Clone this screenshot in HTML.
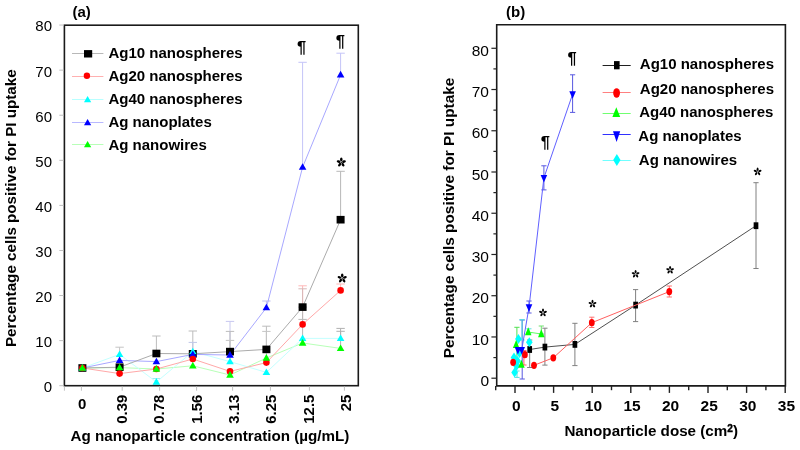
<!DOCTYPE html>
<html><head><meta charset="utf-8"><style>
html,body{margin:0;padding:0;background:#fff;width:800px;height:450px;overflow:hidden}
svg{display:block;font-family:"Liberation Sans", sans-serif;will-change:transform}
text{fill:#000}
</style></head><body>
<svg width="800" height="450" viewBox="0 0 800 450">
<rect width="800" height="450" fill="#fff"/>
<line x1="119.60" y1="347.20" x2="119.60" y2="360.00" stroke="#c4c4c4" stroke-width="1"/>
<line x1="115.40" y1="347.20" x2="123.80" y2="347.20" stroke="#c4c4c4" stroke-width="1"/>
<line x1="156.40" y1="336.00" x2="156.40" y2="353.50" stroke="#bcbcbc" stroke-width="1"/>
<line x1="152.20" y1="336.00" x2="160.60" y2="336.00" stroke="#bcbcbc" stroke-width="1"/>
<line x1="156.40" y1="378.50" x2="156.40" y2="382.00" stroke="#a0f0f0" stroke-width="1"/>
<line x1="152.20" y1="378.50" x2="160.60" y2="378.50" stroke="#a0f0f0" stroke-width="1"/>
<line x1="192.80" y1="331.00" x2="192.80" y2="353.80" stroke="#bcbcbc" stroke-width="1"/>
<line x1="188.60" y1="331.00" x2="197.00" y2="331.00" stroke="#bcbcbc" stroke-width="1"/>
<line x1="192.80" y1="342.40" x2="192.80" y2="351.60" stroke="#c0c8e8" stroke-width="1"/>
<line x1="188.60" y1="342.40" x2="197.00" y2="342.40" stroke="#c0c8e8" stroke-width="1"/>
<line x1="230.00" y1="321.40" x2="230.00" y2="355.00" stroke="#c8c8f0" stroke-width="1"/>
<line x1="225.80" y1="321.40" x2="234.20" y2="321.40" stroke="#c8c8f0" stroke-width="1"/>
<line x1="230.00" y1="331.40" x2="230.00" y2="351.60" stroke="#bcbcbc" stroke-width="1"/>
<line x1="225.80" y1="331.40" x2="234.20" y2="331.40" stroke="#bcbcbc" stroke-width="1"/>
<line x1="230.00" y1="340.40" x2="230.00" y2="361.60" stroke="#c4c4c4" stroke-width="1"/>
<line x1="225.80" y1="340.40" x2="234.20" y2="340.40" stroke="#c4c4c4" stroke-width="1"/>
<line x1="266.40" y1="326.20" x2="266.40" y2="349.40" stroke="#bcbcbc" stroke-width="1"/>
<line x1="262.20" y1="326.20" x2="270.60" y2="326.20" stroke="#bcbcbc" stroke-width="1"/>
<line x1="266.40" y1="331.40" x2="266.40" y2="358.00" stroke="#c4c4c4" stroke-width="1"/>
<line x1="262.20" y1="331.40" x2="270.60" y2="331.40" stroke="#c4c4c4" stroke-width="1"/>
<line x1="266.40" y1="301.00" x2="266.40" y2="307.70" stroke="#c0c0f0" stroke-width="1"/>
<line x1="262.20" y1="301.00" x2="270.60" y2="301.00" stroke="#c0c0f0" stroke-width="1"/>
<line x1="302.60" y1="285.80" x2="302.60" y2="324.40" stroke="#ffb8b8" stroke-width="1"/>
<line x1="298.40" y1="285.80" x2="306.80" y2="285.80" stroke="#ffb8b8" stroke-width="1"/>
<line x1="302.60" y1="288.80" x2="302.60" y2="307.10" stroke="#d8b8b8" stroke-width="1"/>
<line x1="298.40" y1="288.80" x2="306.80" y2="288.80" stroke="#d8b8b8" stroke-width="1"/>
<line x1="302.60" y1="62.30" x2="302.60" y2="167.20" stroke="#c4c4f8" stroke-width="1"/>
<line x1="298.40" y1="62.30" x2="306.80" y2="62.30" stroke="#c4c4f8" stroke-width="1"/>
<line x1="340.60" y1="171.30" x2="340.60" y2="219.70" stroke="#b8b8b8" stroke-width="1"/>
<line x1="336.40" y1="171.30" x2="344.80" y2="171.30" stroke="#b8b8b8" stroke-width="1"/>
<line x1="340.60" y1="53.20" x2="340.60" y2="74.80" stroke="#c4c4f8" stroke-width="1"/>
<line x1="336.40" y1="53.20" x2="344.80" y2="53.20" stroke="#c4c4f8" stroke-width="1"/>
<line x1="340.60" y1="284.00" x2="340.60" y2="290.40" stroke="#ffb8b8" stroke-width="1"/>
<line x1="336.40" y1="284.00" x2="344.80" y2="284.00" stroke="#ffb8b8" stroke-width="1"/>
<line x1="340.60" y1="328.40" x2="340.60" y2="338.40" stroke="#b0b0b0" stroke-width="1"/>
<line x1="336.40" y1="328.40" x2="344.80" y2="328.40" stroke="#b0b0b0" stroke-width="1"/>
<line x1="340.60" y1="331.30" x2="340.60" y2="348.40" stroke="#b0b0b0" stroke-width="1"/>
<line x1="336.40" y1="331.30" x2="344.80" y2="331.30" stroke="#b0b0b0" stroke-width="1"/>
<line x1="302.60" y1="319.40" x2="302.60" y2="338.40" stroke="#b8b8b8" stroke-width="1"/>
<line x1="298.40" y1="319.40" x2="306.80" y2="319.40" stroke="#b8b8b8" stroke-width="1"/>
<line x1="302.60" y1="307.10" x2="302.60" y2="319.40" stroke="#b8b8b8" stroke-width="1"/>
<line x1="298.40" y1="307.10" x2="306.80" y2="307.10" stroke="#b8b8b8" stroke-width="1"/>
<polyline points="82.40,368.00 119.60,367.60 156.40,369.00 192.80,365.80 230.00,375.00 266.40,358.00 302.60,343.00 340.60,348.40" fill="none" stroke="#b8ffb8" stroke-width="1" stroke-linejoin="round"/>
<polyline points="82.40,368.00 119.60,354.40 156.40,382.00 192.80,351.60 230.00,361.60 266.40,372.40 302.60,338.40 340.60,338.40" fill="none" stroke="#c4ffff" stroke-width="1" stroke-linejoin="round"/>
<polyline points="82.40,368.00 119.60,373.60 156.40,369.00 192.80,359.00 230.00,371.40 266.40,362.60 302.60,324.40 340.60,290.40" fill="none" stroke="#ffa8a8" stroke-width="1" stroke-linejoin="round"/>
<polyline points="82.40,368.00 119.60,360.40 156.40,361.60 192.80,354.40 230.00,355.00 266.40,307.70 302.60,167.20 340.60,74.80" fill="none" stroke="#a8a8ff" stroke-width="1" stroke-linejoin="round"/>
<polyline points="82.40,368.00 119.60,367.20 156.40,353.50 192.80,353.80 230.00,351.60 266.40,349.40 302.60,307.10 340.60,219.70" fill="none" stroke="#ababab" stroke-width="1" stroke-linejoin="round"/>
<rect x="78.40" y="364.20" width="8" height="7.6" fill="#000"/>
<rect x="115.60" y="363.40" width="8" height="7.6" fill="#000"/>
<rect x="152.40" y="349.70" width="8" height="7.6" fill="#000"/>
<rect x="188.80" y="350.00" width="8" height="7.6" fill="#000"/>
<rect x="226.00" y="347.80" width="8" height="7.6" fill="#000"/>
<rect x="262.40" y="345.60" width="8" height="7.6" fill="#000"/>
<rect x="298.60" y="303.30" width="8" height="7.6" fill="#000"/>
<rect x="336.60" y="215.90" width="8" height="7.6" fill="#000"/>
<path d="M78.60 370.64L86.20 370.64L82.40 364.04Z" fill="#00ffff"/>
<path d="M115.80 357.04L123.40 357.04L119.60 350.44Z" fill="#00ffff"/>
<path d="M152.60 384.64L160.20 384.64L156.40 378.04Z" fill="#00ffff"/>
<path d="M189.00 354.24L196.60 354.24L192.80 347.64Z" fill="#00ffff"/>
<path d="M226.20 364.24L233.80 364.24L230.00 357.64Z" fill="#00ffff"/>
<path d="M262.60 375.04L270.20 375.04L266.40 368.44Z" fill="#00ffff"/>
<path d="M298.80 341.04L306.40 341.04L302.60 334.44Z" fill="#00ffff"/>
<path d="M336.80 341.04L344.40 341.04L340.60 334.44Z" fill="#00ffff"/>
<path d="M78.60 370.64L86.20 370.64L82.40 364.04Z" fill="#0000ff"/>
<path d="M115.80 363.04L123.40 363.04L119.60 356.44Z" fill="#0000ff"/>
<path d="M152.60 364.24L160.20 364.24L156.40 357.64Z" fill="#0000ff"/>
<path d="M189.00 357.04L196.60 357.04L192.80 350.44Z" fill="#0000ff"/>
<path d="M226.20 357.64L233.80 357.64L230.00 351.04Z" fill="#0000ff"/>
<path d="M262.60 310.34L270.20 310.34L266.40 303.74Z" fill="#0000ff"/>
<path d="M298.80 169.84L306.40 169.84L302.60 163.24Z" fill="#0000ff"/>
<path d="M336.80 77.44L344.40 77.44L340.60 70.84Z" fill="#0000ff"/>
<circle cx="82.40" cy="368.00" r="3.3" fill="#ff0000"/>
<circle cx="119.60" cy="373.60" r="3.3" fill="#ff0000"/>
<circle cx="156.40" cy="369.00" r="3.3" fill="#ff0000"/>
<circle cx="192.80" cy="359.00" r="3.3" fill="#ff0000"/>
<circle cx="230.00" cy="371.40" r="3.3" fill="#ff0000"/>
<circle cx="266.40" cy="362.60" r="3.3" fill="#ff0000"/>
<circle cx="302.60" cy="324.40" r="3.3" fill="#ff0000"/>
<circle cx="340.60" cy="290.40" r="3.3" fill="#ff0000"/>
<path d="M78.60 370.64L86.20 370.64L82.40 364.04Z" fill="#00ff00"/>
<path d="M115.80 370.24L123.40 370.24L119.60 363.64Z" fill="#00ff00"/>
<path d="M152.60 371.64L160.20 371.64L156.40 365.04Z" fill="#00ff00"/>
<path d="M189.00 368.44L196.60 368.44L192.80 361.84Z" fill="#00ff00"/>
<path d="M226.20 377.64L233.80 377.64L230.00 371.04Z" fill="#00ff00"/>
<path d="M262.60 360.64L270.20 360.64L266.40 354.04Z" fill="#00ff00"/>
<path d="M298.80 345.64L306.40 345.64L302.60 339.04Z" fill="#00ff00"/>
<path d="M336.80 351.04L344.40 351.04L340.60 344.44Z" fill="#00ff00"/>
<rect x="64.4" y="25.2" width="293.9" height="360.5" fill="none" stroke="#1a1a1a" stroke-width="1.6"/>
<line x1="59.30" y1="385.70" x2="63.60" y2="385.70" stroke="#c0c0c0" stroke-width="1"/>
<text x="52" y="392.09999999999997" font-size="15" font-weight="normal" text-anchor="end" >0</text>
<line x1="59.30" y1="340.62" x2="63.60" y2="340.62" stroke="#c0c0c0" stroke-width="1"/>
<text x="52" y="347.02" font-size="15" font-weight="normal" text-anchor="end" >10</text>
<line x1="59.30" y1="295.54" x2="63.60" y2="295.54" stroke="#c0c0c0" stroke-width="1"/>
<text x="52" y="301.93999999999994" font-size="15" font-weight="normal" text-anchor="end" >20</text>
<line x1="59.30" y1="250.46" x2="63.60" y2="250.46" stroke="#c0c0c0" stroke-width="1"/>
<text x="52" y="256.85999999999996" font-size="15" font-weight="normal" text-anchor="end" >30</text>
<line x1="59.30" y1="205.38" x2="63.60" y2="205.38" stroke="#c0c0c0" stroke-width="1"/>
<text x="52" y="211.78" font-size="15" font-weight="normal" text-anchor="end" >40</text>
<line x1="59.30" y1="160.30" x2="63.60" y2="160.30" stroke="#c0c0c0" stroke-width="1"/>
<text x="52" y="166.7" font-size="15" font-weight="normal" text-anchor="end" >50</text>
<line x1="59.30" y1="115.22" x2="63.60" y2="115.22" stroke="#c0c0c0" stroke-width="1"/>
<text x="52" y="121.61999999999998" font-size="15" font-weight="normal" text-anchor="end" >60</text>
<line x1="59.30" y1="70.14" x2="63.60" y2="70.14" stroke="#c0c0c0" stroke-width="1"/>
<text x="52" y="76.53999999999999" font-size="15" font-weight="normal" text-anchor="end" >70</text>
<line x1="59.30" y1="25.06" x2="63.60" y2="25.06" stroke="#c0c0c0" stroke-width="1"/>
<text x="52" y="31.46" font-size="15" font-weight="normal" text-anchor="end" >80</text>
<line x1="64.40" y1="386.50" x2="64.40" y2="390.70" stroke="#c0c0c0" stroke-width="1"/>
<line x1="81.40" y1="386.50" x2="81.40" y2="390.70" stroke="#c0c0c0" stroke-width="1"/>
<line x1="122.20" y1="386.50" x2="122.20" y2="390.70" stroke="#c0c0c0" stroke-width="1"/>
<line x1="159.60" y1="386.50" x2="159.60" y2="390.70" stroke="#c0c0c0" stroke-width="1"/>
<line x1="196.60" y1="386.50" x2="196.60" y2="390.70" stroke="#c0c0c0" stroke-width="1"/>
<line x1="232.60" y1="386.50" x2="232.60" y2="390.70" stroke="#c0c0c0" stroke-width="1"/>
<line x1="270.40" y1="386.50" x2="270.40" y2="390.70" stroke="#c0c0c0" stroke-width="1"/>
<line x1="309.40" y1="386.50" x2="309.40" y2="390.70" stroke="#c0c0c0" stroke-width="1"/>
<line x1="344.40" y1="386.50" x2="344.40" y2="390.70" stroke="#c0c0c0" stroke-width="1"/>
<text x="82.2" y="409" font-size="15" font-weight="bold" text-anchor="middle" >0</text>
<text transform="translate(127.2,394.6) rotate(-90)" font-size="15" font-weight="bold" text-anchor="end">0.39</text>
<text transform="translate(164.3,394.6) rotate(-90)" font-size="15" font-weight="bold" text-anchor="end">0.78</text>
<text transform="translate(201.5,394.6) rotate(-90)" font-size="15" font-weight="bold" text-anchor="end">1.56</text>
<text transform="translate(239.1,394.6) rotate(-90)" font-size="15" font-weight="bold" text-anchor="end">3.13</text>
<text transform="translate(276.1,394.6) rotate(-90)" font-size="15" font-weight="bold" text-anchor="end">6.25</text>
<text transform="translate(314.1,394.6) rotate(-90)" font-size="15" font-weight="bold" text-anchor="end">12.5</text>
<text transform="translate(351.2,394.6) rotate(-90)" font-size="15" font-weight="bold" text-anchor="end">25</text>
<text x="70.6" y="441" font-size="15.2" font-weight="bold" text-anchor="start" >Ag nanoparticle concentration (µg/mL)</text>
<text transform="translate(16.1,208.2) rotate(-90)" font-size="15.2" font-weight="bold" text-anchor="middle">Percentage cells positive for PI uptake</text>
<text x="72.5" y="17" font-size="15" font-weight="bold" text-anchor="start" >(a)</text>
<text x="301.7" y="53.0" font-size="16.5" font-weight="bold" text-anchor="middle" >¶</text>
<text x="340.4" y="47.0" font-size="16.5" font-weight="bold" text-anchor="middle" >¶</text>
<ellipse cx="341.30" cy="159.58" rx="1.97" ry="1.25" transform="rotate(-90 341.30 159.58)" fill="#000"/><ellipse cx="343.98" cy="161.53" rx="1.97" ry="1.25" transform="rotate(-18 343.98 161.53)" fill="#000"/><ellipse cx="342.96" cy="164.68" rx="1.97" ry="1.25" transform="rotate(54 342.96 164.68)" fill="#000"/><ellipse cx="339.64" cy="164.68" rx="1.97" ry="1.25" transform="rotate(126 339.64 164.68)" fill="#000"/><ellipse cx="338.62" cy="161.53" rx="1.97" ry="1.25" transform="rotate(198 338.62 161.53)" fill="#000"/><circle cx="341.3" cy="162.4" r="0.62" fill="#000"/>
<ellipse cx="342.20" cy="275.48" rx="1.97" ry="1.25" transform="rotate(-90 342.20 275.48)" fill="#000"/><ellipse cx="344.88" cy="277.43" rx="1.97" ry="1.25" transform="rotate(-18 344.88 277.43)" fill="#000"/><ellipse cx="343.86" cy="280.58" rx="1.97" ry="1.25" transform="rotate(54 343.86 280.58)" fill="#000"/><ellipse cx="340.54" cy="280.58" rx="1.97" ry="1.25" transform="rotate(126 340.54 280.58)" fill="#000"/><ellipse cx="339.52" cy="277.43" rx="1.97" ry="1.25" transform="rotate(198 339.52 277.43)" fill="#000"/><circle cx="342.2" cy="278.3" r="0.62" fill="#000"/>
<line x1="72.00" y1="53.50" x2="103.40" y2="53.50" stroke="#b8b8b8" stroke-width="1"/>
<rect x="84.00" y="50.10" width="8.2" height="7.4" fill="#000"/>
<text x="108.4" y="58.0" font-size="15" font-weight="bold" text-anchor="start" >Ag10 nanospheres</text>
<line x1="72.00" y1="76.50" x2="103.40" y2="76.50" stroke="#ffb0b0" stroke-width="1"/>
<circle cx="86.90" cy="75.80" r="3.2" fill="#ff0000"/>
<text x="108.4" y="80.8" font-size="15" font-weight="bold" text-anchor="start" >Ag20 nanospheres</text>
<line x1="72.00" y1="99.50" x2="103.40" y2="99.50" stroke="#b8ffff" stroke-width="1"/>
<path d="M84 102.3L91.2 102.3L87.6 95.9Z" fill="#00ffff"/>
<text x="108.4" y="104.3" font-size="15" font-weight="bold" text-anchor="start" >Ag40 nanospheres</text>
<line x1="72.00" y1="122.50" x2="103.40" y2="122.50" stroke="#b8b8ff" stroke-width="1"/>
<path d="M84 125.3L91.2 125.3L87.6 118.9Z" fill="#0000ff"/>
<text x="108.4" y="127.2" font-size="15" font-weight="bold" text-anchor="start" >Ag nanoplates</text>
<line x1="72.00" y1="144.50" x2="103.40" y2="144.50" stroke="#b8ffb8" stroke-width="1"/>
<path d="M84 147.3L91.2 147.3L87.6 140.9Z" fill="#00ff00"/>
<text x="108.4" y="149.6" font-size="15" font-weight="bold" text-anchor="start" >Ag nanowires</text>
<line x1="756.00" y1="182.70" x2="756.00" y2="268.50" stroke="#808080" stroke-width="1"/><line x1="753.40" y1="182.70" x2="758.60" y2="182.70" stroke="#808080" stroke-width="1"/><line x1="753.40" y1="268.50" x2="758.60" y2="268.50" stroke="#808080" stroke-width="1"/>
<line x1="635.60" y1="289.60" x2="635.60" y2="321.60" stroke="#808080" stroke-width="1"/><line x1="633.00" y1="289.60" x2="638.20" y2="289.60" stroke="#808080" stroke-width="1"/><line x1="633.00" y1="321.60" x2="638.20" y2="321.60" stroke="#808080" stroke-width="1"/>
<line x1="574.90" y1="323.30" x2="574.90" y2="365.60" stroke="#808080" stroke-width="1"/><line x1="572.30" y1="323.30" x2="577.50" y2="323.30" stroke="#808080" stroke-width="1"/><line x1="572.30" y1="365.60" x2="577.50" y2="365.60" stroke="#808080" stroke-width="1"/>
<line x1="544.90" y1="328.20" x2="544.90" y2="365.10" stroke="#808080" stroke-width="1"/><line x1="542.30" y1="328.20" x2="547.50" y2="328.20" stroke="#808080" stroke-width="1"/><line x1="542.30" y1="365.10" x2="547.50" y2="365.10" stroke="#808080" stroke-width="1"/>
<line x1="529.70" y1="340.00" x2="529.70" y2="367.50" stroke="#808080" stroke-width="1"/><line x1="527.10" y1="340.00" x2="532.30" y2="340.00" stroke="#808080" stroke-width="1"/><line x1="527.10" y1="367.50" x2="532.30" y2="367.50" stroke="#808080" stroke-width="1"/>
<line x1="572.60" y1="74.80" x2="572.60" y2="112.40" stroke="#5858e0" stroke-width="1"/><line x1="570.00" y1="74.80" x2="575.20" y2="74.80" stroke="#5858e0" stroke-width="1"/><line x1="570.00" y1="112.40" x2="575.20" y2="112.40" stroke="#5858e0" stroke-width="1"/>
<line x1="543.90" y1="165.80" x2="543.90" y2="189.90" stroke="#5858e0" stroke-width="1"/><line x1="541.30" y1="165.80" x2="546.50" y2="165.80" stroke="#5858e0" stroke-width="1"/><line x1="541.30" y1="189.90" x2="546.50" y2="189.90" stroke="#5858e0" stroke-width="1"/>
<line x1="529.00" y1="301.00" x2="529.00" y2="313.00" stroke="#5858e0" stroke-width="1"/><line x1="526.40" y1="301.00" x2="531.60" y2="301.00" stroke="#5858e0" stroke-width="1"/><line x1="526.40" y1="313.00" x2="531.60" y2="313.00" stroke="#5858e0" stroke-width="1"/>
<line x1="522.20" y1="320.00" x2="522.20" y2="379.00" stroke="#5858e0" stroke-width="1"/><line x1="519.60" y1="320.00" x2="524.80" y2="320.00" stroke="#5858e0" stroke-width="1"/><line x1="519.60" y1="379.00" x2="524.80" y2="379.00" stroke="#5858e0" stroke-width="1"/>
<line x1="516.90" y1="327.30" x2="516.90" y2="365.00" stroke="#50e050" stroke-width="1"/><line x1="514.30" y1="327.30" x2="519.50" y2="327.30" stroke="#50e050" stroke-width="1"/><line x1="514.30" y1="365.00" x2="519.50" y2="365.00" stroke="#50e050" stroke-width="1"/>
<line x1="523.90" y1="350.60" x2="523.90" y2="365.00" stroke="#ff6060" stroke-width="1"/><line x1="521.30" y1="350.60" x2="526.50" y2="350.60" stroke="#ff6060" stroke-width="1"/><line x1="521.30" y1="365.00" x2="526.50" y2="365.00" stroke="#ff6060" stroke-width="1"/>
<line x1="669.30" y1="286.00" x2="669.30" y2="297.00" stroke="#ff7070" stroke-width="1"/><line x1="666.70" y1="286.00" x2="671.90" y2="286.00" stroke="#ff7070" stroke-width="1"/><line x1="666.70" y1="297.00" x2="671.90" y2="297.00" stroke="#ff7070" stroke-width="1"/>
<line x1="591.80" y1="317.20" x2="591.80" y2="327.50" stroke="#ff7070" stroke-width="1"/><line x1="589.20" y1="317.20" x2="594.40" y2="317.20" stroke="#ff7070" stroke-width="1"/><line x1="589.20" y1="327.50" x2="594.40" y2="327.50" stroke="#ff7070" stroke-width="1"/>
<line x1="517.00" y1="377.40" x2="517.00" y2="371.00" stroke="#50e0e0" stroke-width="1"/><line x1="514.40" y1="377.40" x2="519.60" y2="377.40" stroke="#50e0e0" stroke-width="1"/><line x1="514.40" y1="371.00" x2="519.60" y2="371.00" stroke="#50e0e0" stroke-width="1"/>
<line x1="522.00" y1="319.70" x2="522.00" y2="340.00" stroke="#50e0e0" stroke-width="1"/><line x1="519.40" y1="319.70" x2="524.60" y2="319.70" stroke="#50e0e0" stroke-width="1"/><line x1="519.40" y1="340.00" x2="524.60" y2="340.00" stroke="#50e0e0" stroke-width="1"/>
<line x1="541.30" y1="326.00" x2="541.30" y2="334.00" stroke="#70e070" stroke-width="1"/><line x1="538.70" y1="326.00" x2="543.90" y2="326.00" stroke="#70e070" stroke-width="1"/><line x1="538.70" y1="334.00" x2="543.90" y2="334.00" stroke="#70e070" stroke-width="1"/>
<line x1="528.90" y1="328.80" x2="528.90" y2="333.00" stroke="#60e0e0" stroke-width="1"/><line x1="526.30" y1="328.80" x2="531.50" y2="328.80" stroke="#60e0e0" stroke-width="1"/><line x1="526.30" y1="333.00" x2="531.50" y2="333.00" stroke="#60e0e0" stroke-width="1"/>
<polyline points="529.70,349.50 544.90,347.10 574.90,344.40 635.60,305.10 756.00,225.70" fill="none" stroke="#505050" stroke-width="1" stroke-linejoin="round"/>
<rect x="527.35" y="346.10" width="4.7" height="6.8" fill="#000"/>
<rect x="542.55" y="343.70" width="4.7" height="6.8" fill="#000"/>
<rect x="572.55" y="341.00" width="4.7" height="6.8" fill="#000"/>
<rect x="633.25" y="301.70" width="4.7" height="6.8" fill="#000"/>
<rect x="753.65" y="222.30" width="4.7" height="6.8" fill="#000"/>
<polyline points="528.20,332.00 541.30,334.00" fill="none" stroke="#60ff60" stroke-width="1" stroke-linejoin="round"/>
<path d="M514.60 367.40L517.90 372.40L514.60 377.40L511.30 372.40Z" fill="#00ffff"/>
<path d="M516.50 361.00L519.80 366.00L516.50 371.00L513.20 366.00Z" fill="#00ffff"/>
<path d="M514.00 352.50L517.30 357.50L514.00 362.50L510.70 357.50Z" fill="#00ffff"/>
<path d="M517.60 356.00L520.90 361.00L517.60 366.00L514.30 361.00Z" fill="#00ffff"/>
<path d="M519.50 348.00L522.80 353.00L519.50 358.00L516.20 353.00Z" fill="#00ffff"/>
<path d="M518.40 333.90L521.70 338.90L518.40 343.90L515.10 338.90Z" fill="#00ffff"/>
<path d="M529.30 337.30L532.60 342.30L529.30 347.30L526.00 342.30Z" fill="#00ffff"/>
<path d="M512.85 348.10L519.35 348.10L516.10 340.10Z" fill="#00ff00"/>
<path d="M518.15 367.80L524.65 367.80L521.40 359.80Z" fill="#00ff00"/>
<path d="M524.95 335.20L531.45 335.20L528.20 327.20Z" fill="#00ff00"/>
<path d="M538.05 337.20L544.55 337.20L541.30 329.20Z" fill="#00ff00"/>
<polyline points="534.00,365.30 553.30,357.80 591.80,322.70 669.30,291.60" fill="none" stroke="#ff6060" stroke-width="1" stroke-linejoin="round"/>
<ellipse cx="513.10" cy="362.30" rx="2.9" ry="3.6" fill="#ff0000"/>
<ellipse cx="524.90" cy="354.70" rx="2.9" ry="3.6" fill="#ff0000"/>
<ellipse cx="534.00" cy="365.30" rx="2.9" ry="3.6" fill="#ff0000"/>
<ellipse cx="553.30" cy="357.80" rx="2.9" ry="3.6" fill="#ff0000"/>
<ellipse cx="591.80" cy="322.70" rx="2.9" ry="3.6" fill="#ff0000"/>
<ellipse cx="669.30" cy="291.60" rx="2.9" ry="3.6" fill="#ff0000"/>
<polyline points="517.90,350.00 521.70,350.00 529.00,307.30 543.90,177.90 572.60,94.20" fill="none" stroke="#6060ff" stroke-width="1" stroke-linejoin="round"/>
<path d="M514.60 347.00L521.20 347.00L517.90 354.60Z" fill="#0000ff"/>
<path d="M518.40 347.00L525.00 347.00L521.70 354.60Z" fill="#0000ff"/>
<path d="M525.70 304.30L532.30 304.30L529.00 311.90Z" fill="#0000ff"/>
<path d="M540.60 174.90L547.20 174.90L543.90 182.50Z" fill="#0000ff"/>
<path d="M569.30 91.20L575.90 91.20L572.60 98.80Z" fill="#0000ff"/>
<path d="M496.7 385.9V24.8H785.4V385.9Z" fill="none" stroke="#1a1a1a" stroke-width="1.6"/>
<line x1="491.40" y1="378.20" x2="496.70" y2="378.20" stroke="#222" stroke-width="1.2"/>
<text x="489" y="385.8" font-size="15.5" font-weight="normal" text-anchor="end" >0</text>
<line x1="491.40" y1="336.96" x2="496.70" y2="336.96" stroke="#222" stroke-width="1.2"/>
<text x="489" y="344.56" font-size="15.5" font-weight="normal" text-anchor="end" >10</text>
<line x1="491.40" y1="295.72" x2="496.70" y2="295.72" stroke="#222" stroke-width="1.2"/>
<text x="489" y="303.32000000000005" font-size="15.5" font-weight="normal" text-anchor="end" >20</text>
<line x1="491.40" y1="254.48" x2="496.70" y2="254.48" stroke="#222" stroke-width="1.2"/>
<text x="489" y="262.08000000000004" font-size="15.5" font-weight="normal" text-anchor="end" >30</text>
<line x1="491.40" y1="213.24" x2="496.70" y2="213.24" stroke="#222" stroke-width="1.2"/>
<text x="489" y="220.84" font-size="15.5" font-weight="normal" text-anchor="end" >40</text>
<line x1="491.40" y1="172.00" x2="496.70" y2="172.00" stroke="#222" stroke-width="1.2"/>
<text x="489" y="179.6" font-size="15.5" font-weight="normal" text-anchor="end" >50</text>
<line x1="491.40" y1="130.76" x2="496.70" y2="130.76" stroke="#222" stroke-width="1.2"/>
<text x="489" y="138.36" font-size="15.5" font-weight="normal" text-anchor="end" >60</text>
<line x1="491.40" y1="89.52" x2="496.70" y2="89.52" stroke="#222" stroke-width="1.2"/>
<text x="489" y="97.12000000000003" font-size="15.5" font-weight="normal" text-anchor="end" >70</text>
<line x1="491.40" y1="48.28" x2="496.70" y2="48.28" stroke="#222" stroke-width="1.2"/>
<text x="489" y="55.88000000000003" font-size="15.5" font-weight="normal" text-anchor="end" >80</text>
<line x1="493.40" y1="357.58" x2="496.70" y2="357.58" stroke="#222" stroke-width="1.2"/>
<line x1="493.40" y1="316.34" x2="496.70" y2="316.34" stroke="#222" stroke-width="1.2"/>
<line x1="493.40" y1="275.10" x2="496.70" y2="275.10" stroke="#222" stroke-width="1.2"/>
<line x1="493.40" y1="233.86" x2="496.70" y2="233.86" stroke="#222" stroke-width="1.2"/>
<line x1="493.40" y1="192.62" x2="496.70" y2="192.62" stroke="#222" stroke-width="1.2"/>
<line x1="493.40" y1="151.38" x2="496.70" y2="151.38" stroke="#222" stroke-width="1.2"/>
<line x1="493.40" y1="110.14" x2="496.70" y2="110.14" stroke="#222" stroke-width="1.2"/>
<line x1="493.40" y1="68.90" x2="496.70" y2="68.90" stroke="#222" stroke-width="1.2"/>
<line x1="515.00" y1="385.90" x2="515.00" y2="392.90" stroke="#222" stroke-width="1.4"/>
<text x="516.2" y="411" font-size="15.5" font-weight="bold" text-anchor="middle" >0</text>
<line x1="553.60" y1="385.90" x2="553.60" y2="392.90" stroke="#222" stroke-width="1.4"/>
<text x="554.8000000000001" y="411" font-size="15.5" font-weight="bold" text-anchor="middle" >5</text>
<line x1="592.20" y1="385.90" x2="592.20" y2="392.90" stroke="#222" stroke-width="1.4"/>
<text x="593.4000000000001" y="411" font-size="15.5" font-weight="bold" text-anchor="middle" >10</text>
<line x1="630.80" y1="385.90" x2="630.80" y2="392.90" stroke="#222" stroke-width="1.4"/>
<text x="632.0" y="411" font-size="15.5" font-weight="bold" text-anchor="middle" >15</text>
<line x1="669.40" y1="385.90" x2="669.40" y2="392.90" stroke="#222" stroke-width="1.4"/>
<text x="670.6" y="411" font-size="15.5" font-weight="bold" text-anchor="middle" >20</text>
<line x1="708.00" y1="385.90" x2="708.00" y2="392.90" stroke="#222" stroke-width="1.4"/>
<text x="709.2" y="411" font-size="15.5" font-weight="bold" text-anchor="middle" >25</text>
<line x1="746.60" y1="385.90" x2="746.60" y2="392.90" stroke="#222" stroke-width="1.4"/>
<text x="747.8000000000001" y="411" font-size="15.5" font-weight="bold" text-anchor="middle" >30</text>
<line x1="785.20" y1="385.90" x2="785.20" y2="392.90" stroke="#222" stroke-width="1.4"/>
<text x="786.4000000000001" y="411" font-size="15.5" font-weight="bold" text-anchor="middle" >35</text>
<line x1="495.70" y1="385.90" x2="495.70" y2="390.20" stroke="#222" stroke-width="1.4"/>
<line x1="534.30" y1="385.90" x2="534.30" y2="390.20" stroke="#222" stroke-width="1.4"/>
<line x1="572.90" y1="385.90" x2="572.90" y2="390.20" stroke="#222" stroke-width="1.4"/>
<line x1="611.50" y1="385.90" x2="611.50" y2="390.20" stroke="#222" stroke-width="1.4"/>
<line x1="650.10" y1="385.90" x2="650.10" y2="390.20" stroke="#222" stroke-width="1.4"/>
<line x1="688.70" y1="385.90" x2="688.70" y2="390.20" stroke="#222" stroke-width="1.4"/>
<line x1="727.30" y1="385.90" x2="727.30" y2="390.20" stroke="#222" stroke-width="1.4"/>
<line x1="765.90" y1="385.90" x2="765.90" y2="390.20" stroke="#222" stroke-width="1.4"/>
<text x="564.4" y="435.8" font-size="15.2" font-weight="bold">Nanoparticle dose (cm<tspan font-size="10.2" font-weight="bold" stroke="#000" stroke-width="0.35" dy="-3.6">2</tspan><tspan dy="3.6">)</tspan></text>
<text transform="translate(453.6,218) rotate(-90)" font-size="15.35" font-weight="bold" text-anchor="middle">Percentage cells positive for PI uptake</text>
<text x="506" y="17" font-size="15" font-weight="bold" text-anchor="start" >(b)</text>
<text x="572" y="63.5" font-size="16.5" font-weight="bold" text-anchor="middle" >¶</text>
<text x="545.4" y="148" font-size="16.5" font-weight="bold" text-anchor="middle" >¶</text>
<ellipse cx="543.00" cy="310.30" rx="1.68" ry="0.98" transform="rotate(-90 543.00 310.30)" fill="#000"/><ellipse cx="545.28" cy="311.96" rx="1.68" ry="0.98" transform="rotate(-18 545.28 311.96)" fill="#000"/><ellipse cx="544.41" cy="314.64" rx="1.68" ry="0.98" transform="rotate(54 544.41 314.64)" fill="#000"/><ellipse cx="541.59" cy="314.64" rx="1.68" ry="0.98" transform="rotate(126 541.59 314.64)" fill="#000"/><ellipse cx="540.72" cy="311.96" rx="1.68" ry="0.98" transform="rotate(198 540.72 311.96)" fill="#000"/><circle cx="543.0" cy="312.7" r="0.49" fill="#000"/>
<ellipse cx="592.50" cy="301.50" rx="1.68" ry="0.98" transform="rotate(-90 592.50 301.50)" fill="#000"/><ellipse cx="594.78" cy="303.16" rx="1.68" ry="0.98" transform="rotate(-18 594.78 303.16)" fill="#000"/><ellipse cx="593.91" cy="305.84" rx="1.68" ry="0.98" transform="rotate(54 593.91 305.84)" fill="#000"/><ellipse cx="591.09" cy="305.84" rx="1.68" ry="0.98" transform="rotate(126 591.09 305.84)" fill="#000"/><ellipse cx="590.22" cy="303.16" rx="1.68" ry="0.98" transform="rotate(198 590.22 303.16)" fill="#000"/><circle cx="592.5" cy="303.9" r="0.49" fill="#000"/>
<ellipse cx="635.60" cy="271.60" rx="1.68" ry="0.98" transform="rotate(-90 635.60 271.60)" fill="#000"/><ellipse cx="637.88" cy="273.26" rx="1.68" ry="0.98" transform="rotate(-18 637.88 273.26)" fill="#000"/><ellipse cx="637.01" cy="275.94" rx="1.68" ry="0.98" transform="rotate(54 637.01 275.94)" fill="#000"/><ellipse cx="634.19" cy="275.94" rx="1.68" ry="0.98" transform="rotate(126 634.19 275.94)" fill="#000"/><ellipse cx="633.32" cy="273.26" rx="1.68" ry="0.98" transform="rotate(198 633.32 273.26)" fill="#000"/><circle cx="635.6" cy="274.0" r="0.49" fill="#000"/>
<ellipse cx="670.10" cy="267.60" rx="1.68" ry="0.98" transform="rotate(-90 670.10 267.60)" fill="#000"/><ellipse cx="672.38" cy="269.26" rx="1.68" ry="0.98" transform="rotate(-18 672.38 269.26)" fill="#000"/><ellipse cx="671.51" cy="271.94" rx="1.68" ry="0.98" transform="rotate(54 671.51 271.94)" fill="#000"/><ellipse cx="668.69" cy="271.94" rx="1.68" ry="0.98" transform="rotate(126 668.69 271.94)" fill="#000"/><ellipse cx="667.82" cy="269.26" rx="1.68" ry="0.98" transform="rotate(198 667.82 269.26)" fill="#000"/><circle cx="670.1" cy="270.0" r="0.49" fill="#000"/>
<ellipse cx="757.60" cy="169.30" rx="1.68" ry="0.98" transform="rotate(-90 757.60 169.30)" fill="#000"/><ellipse cx="759.88" cy="170.96" rx="1.68" ry="0.98" transform="rotate(-18 759.88 170.96)" fill="#000"/><ellipse cx="759.01" cy="173.64" rx="1.68" ry="0.98" transform="rotate(54 759.01 173.64)" fill="#000"/><ellipse cx="756.19" cy="173.64" rx="1.68" ry="0.98" transform="rotate(126 756.19 173.64)" fill="#000"/><ellipse cx="755.32" cy="170.96" rx="1.68" ry="0.98" transform="rotate(198 755.32 170.96)" fill="#000"/><circle cx="757.6" cy="171.7" r="0.49" fill="#000"/>
<line x1="602.60" y1="65.50" x2="630.70" y2="65.50" stroke="#202020" stroke-width="1"/>
<rect x="614.00" y="61.10" width="5.6" height="8.2" fill="#000"/>
<text x="639.8" y="68.6" font-size="15" font-weight="bold" text-anchor="start" >Ag10 nanospheres</text>
<line x1="602.60" y1="92.50" x2="630.70" y2="92.50" stroke="#ff8080" stroke-width="1"/>
<ellipse cx="616.60" cy="93.00" rx="3.4" ry="4.8" fill="#ff0000"/>
<text x="639.8" y="93.5" font-size="15" font-weight="bold" text-anchor="start" >Ag20 nanospheres</text>
<line x1="602.60" y1="113.50" x2="630.70" y2="113.50" stroke="#70ff70" stroke-width="1"/>
<path d="M612.4 116.9L620.2 116.9L616.3 107.2Z" fill="#00ff00"/>
<text x="639.2" y="117.2" font-size="15" font-weight="bold" text-anchor="start" >Ag40 nanospheres</text>
<line x1="602.60" y1="134.50" x2="630.70" y2="134.50" stroke="#3030ff" stroke-width="1"/>
<path d="M613 131.2L620.2 131.2L616.6 142Z" fill="#0000ff"/>
<text x="638.3" y="140.8" font-size="15" font-weight="bold" text-anchor="start" >Ag nanoplates</text>
<line x1="602.60" y1="160.50" x2="630.70" y2="160.50" stroke="#70ffff" stroke-width="1"/>
<path d="M616.85 154.00L620.50 160.00L616.85 166.00L613.20 160.00Z" fill="#00ffff"/>
<text x="638.8" y="164.5" font-size="15" font-weight="bold" text-anchor="start" >Ag nanowires</text>
</svg>
</body></html>
